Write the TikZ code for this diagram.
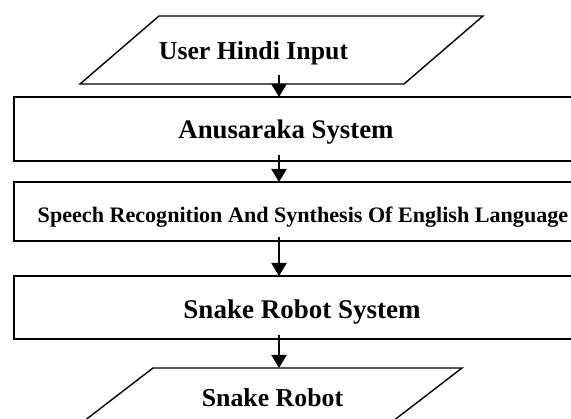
\documentclass[tikz,border=0pt]{standalone}
\usepackage{fontspec}
\setmainfont{Liberation Serif}
\usetikzlibrary{arrows.meta,calc}
\tikzset{
  box/.style={draw, line width=2pt, rectangle, inner sep=0pt, outer sep=0pt},
  frame/.style={rectangle, inner sep=0pt, outer sep=0pt},
  paraline/.style={line width=1.4pt, line join=miter},
  lbl/.style={anchor=base, inner sep=0pt, font=\bfseries},
  arr/.style={line width=2pt, -{Triangle[width=15pt,length=13pt]}}
}
\newcommand{\fsz}[1]{\fontsize{#1}{#1}\selectfont}
\begin{document}
\begin{tikzpicture}[x=1pt,y=-1pt]
\useasboundingbox (0,0) rectangle (571,419);
\clip (0,0) rectangle (571,419);
\fill[white] (0,0) rectangle (571,419);
% shapes
\node[frame, minimum width=403pt, minimum height=68pt] (p1) at (281.5,50) {};
\draw[paraline] ($(p1.north west)+(79,0)$) -- (p1.north east)
   -- ($(p1.south east)+(-79,0)$) -- (p1.south west) -- cycle;
\node[box, minimum width=586pt, minimum height=64pt] (b1) at (307,129) {};
\node[box, minimum width=586pt, minimum height=59pt] (b2) at (307,211.5) {};
\node[box, minimum width=586pt, minimum height=63pt] (b3) at (307,307.5) {};
\node[frame, minimum width=400pt, minimum height=70pt] (p2) at (262,403) {};
\draw[paraline] ($(p2.north west)+(91,0)$) -- (p2.north east)
   -- ($(p2.south east)+(-91,0)$) -- (p2.south west) -- cycle;
% labels
\node[lbl, font=\bfseries\fsz{25.8}] (t1) at (253.5,60) {User Hindi Input};
\node[lbl, font=\bfseries\fsz{26.8}] (t2) at (286,139) {Anusaraka System};
\node[lbl, font=\bfseries\fsz{22.1}] (t3) at (303,223) {Speech Recognition And Synthesis Of English Language};
\node[lbl, font=\bfseries\fsz{27}] (t4) at (302,319) {Snake Robot System};
\node[lbl, font=\bfseries\fsz{25.8}] (t5) at (272.5,407) {Snake Robot};
% connectors
\coordinate (ax) at (279,0);
\draw[arr] ($(p1.south -| ax)+(0,-9)$) -- (b1.north -| ax);
\draw[arr] ($(b1.south -| ax)+(0,-6)$) -- (b2.north -| ax);
\draw[arr] ($(b2.south -| ax)+(0,-4)$) -- (b3.north -| ax);
\draw[arr] ($(b3.south -| ax)+(0,-4)$) -- (p2.north -| ax);
\end{tikzpicture}
\end{document}
